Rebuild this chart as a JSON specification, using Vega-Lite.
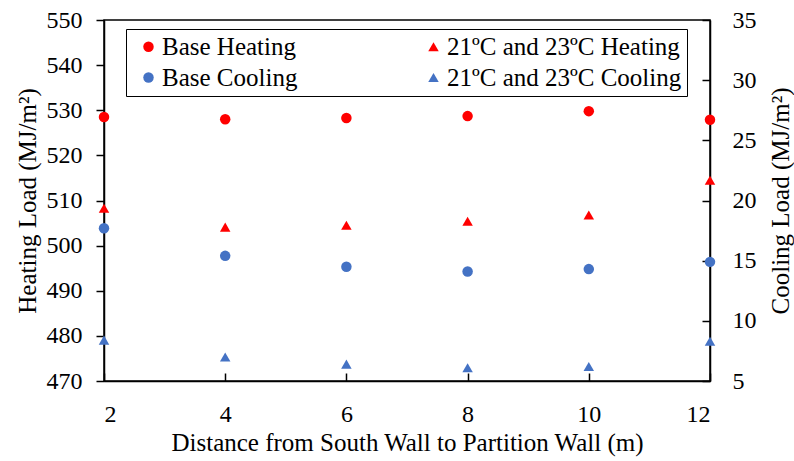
{
  "$schema": "https://vega.github.io/schema/vega-lite/v6.json",
  "width": 606,
  "height": 361,
  "autosize": "none",
  "padding": {"left": 104, "top": 20, "right": 84, "bottom": 80},
  "background": "white",
  "config": {
    "font": "Liberation Serif",
    "view": {"stroke": "black", "strokeWidth": 1.5},
    "axis": {"grid": false, "domainColor": "black", "domainWidth": 1.5, "tickColor": "black", "tickWidth": 1.5, "labelColor": "black", "titleColor": "black", "labelFontSize": 24, "titleFontSize": 25, "titleFontWeight": "normal", "labelFont": "Liberation Serif", "titleFont": "Liberation Serif"}
  },
  "data": {
    "values": [
      {"x": 2, "series": "Base Heating", "kind": "heating", "v": 528.5},
      {"x": 4, "series": "Base Heating", "kind": "heating", "v": 528.0},
      {"x": 6, "series": "Base Heating", "kind": "heating", "v": 528.3},
      {"x": 8, "series": "Base Heating", "kind": "heating", "v": 528.7},
      {"x": 10, "series": "Base Heating", "kind": "heating", "v": 529.8},
      {"x": 12, "series": "Base Heating", "kind": "heating", "v": 527.9},
      {"x": 2, "series": "21ºC and 23ºC Heating", "kind": "heating", "v": 508.3},
      {"x": 4, "series": "21ºC and 23ºC Heating", "kind": "heating", "v": 504.1},
      {"x": 6, "series": "21ºC and 23ºC Heating", "kind": "heating", "v": 504.5},
      {"x": 8, "series": "21ºC and 23ºC Heating", "kind": "heating", "v": 505.4},
      {"x": 10, "series": "21ºC and 23ºC Heating", "kind": "heating", "v": 506.8},
      {"x": 12, "series": "21ºC and 23ºC Heating", "kind": "heating", "v": 514.5},
      {"x": 2, "series": "Base Cooling", "kind": "cooling", "v": 17.7},
      {"x": 4, "series": "Base Cooling", "kind": "cooling", "v": 15.4},
      {"x": 6, "series": "Base Cooling", "kind": "cooling", "v": 14.5},
      {"x": 8, "series": "Base Cooling", "kind": "cooling", "v": 14.1},
      {"x": 10, "series": "Base Cooling", "kind": "cooling", "v": 14.3},
      {"x": 12, "series": "Base Cooling", "kind": "cooling", "v": 14.9},
      {"x": 2, "series": "21ºC and 23ºC Cooling", "kind": "cooling", "v": 8.4},
      {"x": 4, "series": "21ºC and 23ºC Cooling", "kind": "cooling", "v": 7.0},
      {"x": 6, "series": "21ºC and 23ºC Cooling", "kind": "cooling", "v": 6.4},
      {"x": 8, "series": "21ºC and 23ºC Cooling", "kind": "cooling", "v": 6.1},
      {"x": 10, "series": "21ºC and 23ºC Cooling", "kind": "cooling", "v": 6.2},
      {"x": 12, "series": "21ºC and 23ºC Cooling", "kind": "cooling", "v": 8.3}
    ]
  },
  "encoding": {
    "x": {"field": "x", "type": "quantitative", "scale": {"domain": [2, 12], "nice": false, "zero": false},
      "axis": {"values": [2, 4, 6, 8, 10, 12], "tickSize": -8, "labelPadding": 29, "title": "Distance from South Wall to Partition Wall (m)", "titlePadding": 4}},
    "color": {"field": "series", "type": "nominal",
      "scale": {"domain": ["Base Heating", "Base Cooling", "21ºC and 23ºC Heating", "21ºC and 23ºC Cooling"], "range": ["#FF0000", "#4472C4", "#FF0000", "#4472C4"]},
      "legend": {"title": null, "orient": "none", "legendX": 22, "legendY": 9, "columns": 2, "columnPadding": 118, "rowPadding": 5, "padding": 5, "symbolOffset": 5, "strokeColor": "black", "fillColor": "white", "labelFontSize": 25, "labelFont": "Liberation Serif", "labelColor": "black", "symbolSize": 100, "symbolStrokeWidth": 0, "labelLimit": 400, "labelOffset": 1}},
    "shape": {"field": "series", "type": "nominal",
      "scale": {"domain": ["Base Heating", "Base Cooling", "21ºC and 23ºC Heating", "21ºC and 23ºC Cooling"], "range": ["circle", "circle", "triangle-up", "triangle-up"]}},
    "size": {"field": "series", "type": "nominal", "legend": null,
      "scale": {"domain": ["Base Heating", "Base Cooling", "21ºC and 23ºC Heating", "21ºC and 23ºC Cooling"], "range": [110, 110, 140, 140]}}
  },
  "layer": [
    {
      "transform": [{"filter": "datum.kind == 'heating'"}],
      "mark": {"type": "point", "filled": true, "opacity": 1},
      "encoding": {
        "y": {"field": "v", "type": "quantitative", "scale": {"domain": [470, 550], "nice": false, "zero": false},
          "axis": {"values": [470, 480, 490, 500, 510, 520, 530, 540, 550], "tickSize": 8, "labelPadding": 14, "title": "Heating Load (MJ/m²)", "titlePadding": 6}}
      }
    },
    {
      "transform": [{"filter": "datum.kind == 'cooling'"}],
      "mark": {"type": "point", "filled": true, "opacity": 1},
      "encoding": {
        "y": {"field": "v", "type": "quantitative", "scale": {"domain": [5, 35], "nice": false, "zero": false},
          "axis": {"orient": "right", "values": [5, 10, 15, 20, 25, 30, 35], "tickSize": -8, "labelPadding": 30, "title": "Cooling Load (MJ/m²)", "titleAngle": 270, "titlePadding": 37}}
      }
    }
  ],
  "resolve": {"scale": {"y": "independent"}}
}
